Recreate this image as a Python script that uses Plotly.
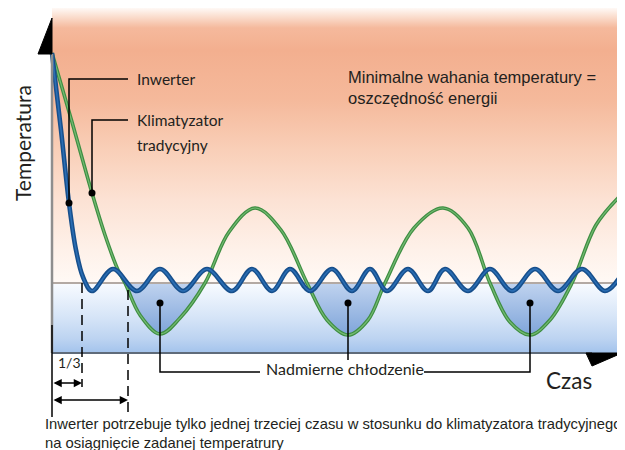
import plotly.graph_objects as go

# ---------------- data (arbitrary time / temperature units) ----------------
setpoint = 70

inverter_time = [0, 9, 17, 24, 31, 40, 61, 85, 108, 131, 155, 180, 200, 220, 238, 258,
                 280, 300, 318, 335, 356, 376, 393, 416, 438, 460, 483, 506, 530, 553, 570]
inverter_temp = [300, 223, 150, 103, 76, 62, 84, 62, 84, 62, 84, 62, 84, 62, 84, 62,
                 84, 62, 84, 62, 84, 62, 84, 62, 84, 62, 84, 62, 84, 62, 79]

classic_time = [0, 20, 40, 53, 66, 73, 88, 108, 128, 153, 177, 203, 229, 255, 275, 296,
                316, 333, 362, 391, 416, 438, 458, 478, 498, 520, 544, 568]
classic_temp = [300, 231, 160, 118, 83, 70, 38, 19, 35, 70, 121, 145, 123, 70, 33, 18,
                33, 70, 125, 145, 125, 70, 31, 18, 33, 70, 128, 157]

time_end = 566          # right edge of the drawing area
temp_top = 347          # top of the drawing area
inverter_reach = 30     # time when the inverter reaches the setpoint
classic_reach = 76      # time when the classic unit reaches the setpoint

label_inverter = "Inwerter"
label_classic = ["Klimatyzator", "tradycyjny"]
label_note = ["Minimalne wahania temperatury =", "oszczędność energii"]
label_over = "Nadmierne chłodzenie"
label_y = "Temperatura"
label_x = "Czas"
label_third = "1/3"
caption = ["Inwerter potrzebuje tylko jednej trzeciej czasu w stosunku do klimatyzatora tradycyjnego",
           "na osiągnięcie zadanej temperatrury"]

LABEL_FONT = "Lato"
ARIAL = "Liberation Sans, Arial"
INK = "#231F20"

fig = go.Figure()

# warm background above the setpoint
fig.add_trace(go.Scatter(
    x=[0, time_end, time_end, 0, 0], y=[setpoint, setpoint, temp_top, temp_top, setpoint],
    mode="lines", line=dict(width=0), fill="toself", hoverinfo="skip",
    fillgradient=dict(type="vertical", start=setpoint, stop=temp_top, colorscale=[
        [0.0, "#FFF9F5"], [0.12, "#FEF1E9"], [0.30, "#FCE2D4"], [0.48, "#F9CFB8"],
        [0.661, "#F5B99B"], [0.841, "#F3AF8F"], [0.921, "#F5B99C"], [0.971, "#FCE6DA"],
        [1.0, "#FFFFFF"]])))

# cool background below the setpoint
fig.add_trace(go.Scatter(
    x=[0, time_end, time_end, 0, 0], y=[0, 0, setpoint, setpoint, 0],
    mode="lines", line=dict(width=0), fill="toself", hoverinfo="skip",
    fillgradient=dict(type="vertical", start=0, stop=setpoint, colorscale=[
        [0.0, "#A3C3EC"], [0.2, "#BCD3F1"], [0.5, "#D5E4F7"], [0.8, "#EAF2FC"],
        [1.0, "#F8FBFF"]])))

# over-cooling regions: classic curve below the setpoint
runs, cur = [], []
for t, v in zip(classic_time, classic_temp):
    if v <= setpoint:
        cur.append((t, v))
    elif cur:
        runs.append(cur)
        cur = []
if cur:
    runs.append(cur)
for run in runs:
    if len(run) < 3:
        continue
    fig.add_trace(go.Scatter(
        x=[p[0] for p in run], y=[p[1] for p in run], mode="lines",
        line=dict(width=0, shape="spline"), fill="toself", hoverinfo="skip",
        fillgradient=dict(type="vertical", start=min(p[1] for p in run), stop=setpoint,
                          colorscale=[[0, "#7FA5DA"], [1, "#C0D3EF"]])))

# setpoint line
fig.add_trace(go.Scatter(x=[0, time_end + 2], y=[setpoint, setpoint], mode="lines",
                         line=dict(color="#B3A9A3", width=2), hoverinfo="skip"))

# classic air conditioner
fig.add_trace(go.Scatter(x=classic_time, y=classic_temp, mode="lines",
                         line=dict(color="#3E8E42", width=3.6, shape="spline")))
fig.add_trace(go.Scatter(x=classic_time, y=classic_temp, mode="lines",
                         line=dict(color="#74BA72", width=1.2, shape="spline")))
# inverter
fig.add_trace(go.Scatter(x=inverter_time, y=inverter_temp, mode="lines",
                         line=dict(color="#174F8C", width=4.6, shape="spline")))
fig.add_trace(go.Scatter(x=inverter_time, y=inverter_temp, mode="lines",
                         line=dict(color="#2A6DB3", width=1.6, shape="spline")))

# callout dots
inv_pt = (inverter_time[2], inverter_temp[2])
cls_pt = (classic_time[2], classic_temp[2])
mins = [min(r, key=lambda p: p[1])[0] for r in runs if len(r) >= 3]
dot_level = 50
fig.add_trace(go.Scatter(x=[inv_pt[0], cls_pt[0]] + mins,
                         y=[inv_pt[1], cls_pt[1]] + [dot_level] * len(mins),
                         mode="markers", marker=dict(color="black", size=7)))

shapes = []
def seg(pts, dash=None, width=1.5, color="black"):
    path = "M " + " L ".join(f"{x},{y}" for x, y in pts)
    shapes.append(dict(type="path", path=path, line=dict(color=color, width=width, dash=dash)))

# axes
seg([(0, 299), (0, 0)], color="#8E8E8E", width=2.5)
seg([(0, 0), (540, 0)], color="#5F6B7A", width=2)
shapes.append(dict(type="path", path="M 0,335 L 0,299 L -14,299 Z", fillcolor="black",
                   line=dict(color="black", width=1)))
shapes.append(dict(type="path", path="M 534,0 L 570,0 L 540,-13 Z", fillcolor="black",
                   line=dict(color="black", width=1)))

# leader lines
seg([inv_pt, (inv_pt[0], 274), (76, 274)])
seg([cls_pt, (cls_pt[0], 233), (76, 233)])
seg([(mins[0], dot_level), (mins[0], -19), (208, -19)])
seg([(mins[1], dot_level), (mins[1], -7)])
seg([(mins[2], dot_level), (mins[2], -19), (372, -19)])

# time markers
seg([(0, 28), (0, -64)])
seg([(inverter_reach, setpoint), (inverter_reach, -34)], dash="10px,6px")
seg([(classic_reach, setpoint - 7), (classic_reach, -64)], dash="10px,6px")

annotations = []
def txt(x, y, s, size, family=LABEL_FONT, **kw):
    annotations.append(dict(x=x, y=y, text=s, showarrow=False, xanchor=kw.pop("xanchor", "left"),
                            yanchor="middle", font=dict(family=family, size=size, color=INK), **kw))

txt(83, 274, label_inverter, 15.5)
txt(83, 233, label_classic[0], 15.5)
txt(83, 208, label_classic[1], 15.5)
txt(294, 276, label_note[0], 16.5, family=ARIAL)
txt(294, 255, label_note[1], 16.5, family=ARIAL)
txt(-30, 210, label_y, 21, textangle=-90, xanchor="center")
txt(492, -27, label_x, 22.5)
txt(212, -15, label_over, 16)
txt(4, -9, label_third, 14)
txt(-9, -71, caption[0], 14.8, family=ARIAL)
txt(-9, -90, caption[1], 14.8, family=ARIAL)

# double arrows
for reach, level in [(inverter_reach, -30), (classic_reach, -47)]:
    annotations.append(dict(x=reach, y=level, ax=0, ay=level, xref="x", yref="y",
                            axref="x", ayref="y", text="", showarrow=True,
                            arrowhead=2, startarrowhead=2, arrowside="end+start",
                            arrowsize=1.1, arrowwidth=1.5, arrowcolor="black"))

# ranges offset by the page's 8px body margin
fig.update_layout(
    width=625, height=450, margin=dict(l=0, r=0, t=0, b=0),
    paper_bgcolor="white", plot_bgcolor="white", showlegend=False,
    xaxis=dict(range=[-44, 581], visible=False, fixedrange=True),
    yaxis=dict(range=[-105, 345], visible=False, fixedrange=True),
    shapes=shapes, annotations=annotations,
)

fig.write_html("out.html")
